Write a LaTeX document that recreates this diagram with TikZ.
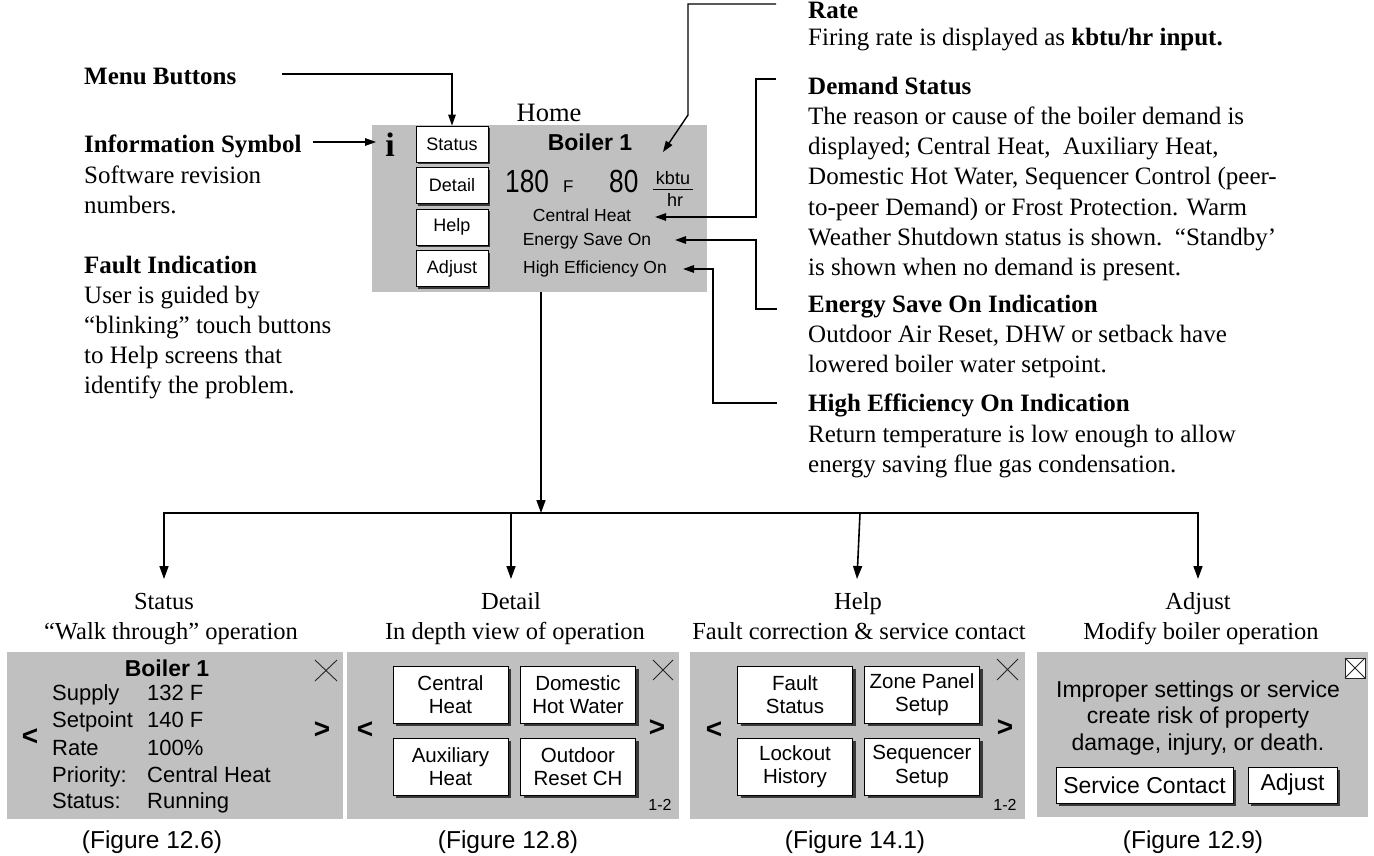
\documentclass[tikz,border=0pt]{standalone}
\usepackage{fontspec}
\setmainfont{Liberation Serif}
\newfontfamily\sans{Liberation Sans}
\newfontfamily\sansn{Liberation Sans}[FakeStretch=0.82]
\usetikzlibrary{arrows.meta,shadows}
\definecolor{panelgray}{HTML}{C0C0C0}
\definecolor{shadowgray}{HTML}{383838}
\tikzset{
  plain/.style={line width=1.6pt},
  conn/.style={line width=1.6pt, -{Triangle[length=13pt,width=9pt]}},
  sconn/.style={line width=1.4pt, -{Triangle[length=11pt,width=7.5pt]}},
  body/.style={inner sep=0pt, anchor=base west, font=\fontsize{25}{30}\selectfont},
  head/.style={body, font=\bfseries\fontsize{25}{30}\selectfont},
  title/.style={inner sep=0pt, anchor=base, font=\fontsize{24.5}{30}\selectfont},
  figlab/.style={inner sep=0pt, anchor=base, font=\sans\fontsize{24.5}{28}\selectfont},
  panel/.style={fill=panelgray, draw=none, inner sep=0pt},
  hbtn/.style={draw=black, fill=white, line width=0.8pt, inner sep=0pt,
    minimum width=72pt, minimum height=36pt, font=\sans\fontsize{18}{22}\selectfont,
    drop shadow={shadow xshift=2.2pt, shadow yshift=-2.2pt, fill=shadowgray, opacity=1}},
  pbtn/.style={draw=black, fill=white, line width=0.8pt, inner sep=0pt, align=center,
    minimum width=115pt, minimum height=57pt, font=\sans\fontsize{20.5}{23.5}\selectfont,
    drop shadow={shadow xshift=3pt, shadow yshift=-3pt, fill=shadowgray, opacity=1}},
  abtn/.style={draw=black, fill=white, line width=0.8pt, inner sep=0pt,
    minimum height=36pt, font=\sans\fontsize{23}{27}\selectfont,
    drop shadow={shadow xshift=3pt, shadow yshift=-3pt, fill=shadowgray, opacity=1}},
  ptxt/.style={inner sep=0pt, anchor=base west, font=\sans\fontsize{22}{26}\selectfont},
  nav/.style={inner sep=0pt, font=\sans\bfseries\fontsize{28}{30}\selectfont},
  closex/.style={line width=0.9pt, draw=black!85},
  pg/.style={inner sep=0pt, anchor=base, font=\sans\fontsize{16}{18}\selectfont}
}
\begin{document}
\begin{tikzpicture}[x=1pt,y=-1pt]
\useasboundingbox (0,0) rectangle (1374,856);
\fill[white] (0,0) rectangle (1374,856);

% ---------------- Home screen ----------------
\node[panel, minimum width=335pt, minimum height=167pt] (home) at (539.5,208.5) {};
\node[inner sep=0pt, anchor=base, font=\fontsize{26.5}{30}\selectfont] (homelbl) at (549,122) {Home};
\node[inner sep=0pt, anchor=base, font=\bfseries\fontsize{34}{34}\selectfont] (isym) at (390,157) {i};
\node[hbtn] (bStatus) at (452,144) {Status};
\node[hbtn] (bDetail) at (452,185.5) {Detail};
\node[hbtn] (bHelp) at (452,227) {Help};
\node[hbtn] (bAdjust) at (452,268.5) {Adjust};
\node[inner sep=0pt, anchor=base, font=\sans\bfseries\fontsize{23}{26}\selectfont] (hboiler) at (590,150) {Boiler 1};
\node[inner sep=0pt, anchor=base west, font=\sansn\fontsize{32}{32}\selectfont] (t180) at (505,193) {180};
\node[inner sep=0pt, anchor=base west, font=\sans\fontsize{17}{17}\selectfont] (tF) at (563,193) {F};
\node[inner sep=0pt, anchor=base west, font=\sansn\fontsize{32}{32}\selectfont] (t80) at (609,193) {80};
\node[inner sep=0pt, anchor=base, font=\sans\fontsize{18}{18}\selectfont] (kbtu) at (673,185) {kbtu};
\node[inner sep=0pt, anchor=base, font=\sans\fontsize{18}{18}\selectfont] (hr) at (675,207) {hr};
\draw[line width=1pt] (653,189.5) -- (693,189.5);
\node[inner sep=0pt, anchor=base, font=\sans\fontsize{17.5}{20}\selectfont] (hch) at (582,222) {Central Heat};
\node[inner sep=0pt, anchor=base, font=\sans\fontsize{17.5}{20}\selectfont] (hes) at (587,245) {Energy Save On};
\node[inner sep=0pt, anchor=base, font=\sans\fontsize{17.5}{20}\selectfont] (hhe) at (595,273) {High Efficiency On};

% ---------------- Left notes ----------------
\node[head] (menuT) at (84,85) {Menu Buttons};
\node[head] (infoT) at (84,152.5) {Information Symbol};
\node[body] (info1) at (84,183) {Software revision};
\node[body] (info2) at (84,213) {numbers.};
\node[head] (faultT) at (84,273) {Fault Indication};
\node[body] (fault1) at (84,303) {User is guided by};
\node[body] (fault2) at (84,333) {“blinking” touch buttons};
\node[body] (fault3) at (84,363) {to Help screens that};
\node[body] (fault4) at (84,393) {identify the problem.};

% ---------------- Right notes ----------------
\node[head] (rateT) at (808,19) {Rate};
\node[body] (rate1) at (808,46) {Firing rate is displayed as \textbf{kbtu/hr input.}};
\node[head] (demT) at (808,95) {Demand Status};
\node[body] (dem1) at (808,125) {The reason or cause of the boiler demand is};
\node[body] (dem2) at (808,155) {displayed; Central Heat,\ \ Auxiliary Heat,};
\node[body] (dem3) at (808,185) {Domestic Hot Water, Sequencer Control (peer-};
\node[body] (dem4) at (808,215) {to-peer Demand) or Frost Protection. Warm};
\node[body] (dem5) at (808,245) {Weather Shutdown status is shown.\ \ “Standby’};
\node[body] (dem6) at (808,275) {is shown when no demand is present.};
\node[head] (esT) at (808,312) {Energy Save On Indication};
\node[body] (es1) at (808,342) {Outdoor Air Reset, DHW or setback have};
\node[body] (es2) at (808,372) {lowered boiler water setpoint.};
\node[head] (heT) at (808,411) {High Efficiency On Indication};
\node[body] (he1) at (808,442) {Return temperature is low enough to allow};
\node[body] (he2) at (808,472) {energy saving flue gas condensation.};

% ---------------- Top connectors ----------------
\coordinate (menuA) at (282,74);
\coordinate (menuB) at (bStatus.north |- menuA);
\draw[sconn] (menuA) -- (menuB) -- (bStatus.north);
\coordinate (infoA) at (313,142);
\coordinate (infoB) at (376,142);
\draw[sconn] (infoA) -- (infoB);
\coordinate (rateA) at (776,4);
\coordinate (rateB) at (688,4);
\coordinate (rateC) at (688,115);
\coordinate (rateTip) at (663,152);
\draw[sconn] (rateA) -- (rateB) -- (rateC) -- (rateTip);
\coordinate (demA) at (776,79);
\coordinate (demB) at (756,79);
\coordinate (demC) at (756,217);
\coordinate (chTip) at (655,217);
\draw[sconn] (demA) -- (demB) -- (demC) -- (chTip);
\coordinate (esA) at (777,309);
\coordinate (esB) at (756,309);
\coordinate (esC) at (756,240);
\coordinate (esTip) at (675,240);
\draw[sconn] (esA) -- (esB) -- (esC) -- (esTip);
\coordinate (heA) at (777,403);
\coordinate (heB) at (713,403);
\coordinate (heC) at (713,269);
\coordinate (heTip) at (683,269);
\draw[sconn] (heA) -- (heB) -- (heC) -- (heTip);

% ---------------- Tree ----------------
\coordinate (hb) at (541,292);
\coordinate (tj) at (541,513);
\coordinate (tL) at (164,513);
\coordinate (tR) at (1198,513);
\coordinate (sTip) at (164,579);
\coordinate (aTip) at (1198,579);
\coordinate (dTop) at (511,513);
\coordinate (dTip) at (511,579);
\coordinate (hTop) at (860,513);
\coordinate (hTip) at (857,579);
\draw[conn] (hb) -- (tj);
\draw[line width=1.6pt, {Triangle[length=13pt,width=9pt]}-{Triangle[length=13pt,width=9pt]}] (sTip) -- (tL) -- (tR) -- (aTip);
\draw[conn] (dTop) -- (dTip);
\draw[conn] (hTop) -- (hTip);

\node[title] (stT) at (164,609) {Status};
\node[title] (stS) at (171,639) {“Walk through” operation};
\node[title] (dtT) at (511,609) {Detail};
\node[title] (dtS) at (515,639) {In depth view of operation};
\node[title] (hpT) at (858,609) {Help};
\node[title] (hpS) at (859,639) {Fault correction \& service contact};
\node[title] (ajT) at (1198,609) {Adjust};
\node[title] (ajS) at (1201,639) {Modify boiler operation};

% ---------------- Panel 1: Status ----------------
\node[panel, minimum width=336pt, minimum height=167pt] (p1) at (175,735) {};
\node[inner sep=0pt, anchor=base, font=\sans\bfseries\fontsize{23}{26}\selectfont] (p1b) at (167,676) {Boiler 1};
\node[ptxt] (p1l1) at (52,700) {Supply};
\node[ptxt] (p1v1) at (147,700) {132 F};
\node[ptxt] (p1l2) at (52,727) {Setpoint};
\node[ptxt] (p1v2) at (147,727) {140 F};
\node[ptxt] (p1l3) at (52,755) {Rate};
\node[ptxt] (p1v3) at (147,755) {100\%};
\node[ptxt] (p1l4) at (52,782) {Priority:};
\node[ptxt] (p1v4) at (147,782) {Central Heat};
\node[ptxt] (p1l5) at (52,808) {Status:};
\node[ptxt] (p1v5) at (147,808) {Running};
\node[nav] (p1lt) at (30,737) {<};
\node[nav] (p1gt) at (322,730) {>};
\draw[closex] (315,660) -- (337,681) (315,681) -- (337,660);
\node[figlab] (f1) at (152,848) {(Figure 12.6)};

% ---------------- Panel 2: Detail ----------------
\node[panel, minimum width=332pt, minimum height=167pt] (p2) at (513,735) {};
\node[pbtn] (p2a) at (450.5,694.5) {Central\\Heat};
\node[pbtn] (p2b) at (578,694.5) {Domestic\\Hot Water};
\node[pbtn] (p2c) at (450.5,766.5) {Auxiliary\\Heat};
\node[pbtn] (p2d) at (578,766.5) {Outdoor\\Reset CH};
\node[nav] (p2lt) at (365,730) {<};
\node[nav] (p2gt) at (657,728) {>};
\draw[closex] (653,660) -- (673,680) (653,680) -- (673,660);
\node[pg] (p2pg) at (660,810) {1-2};
\node[figlab] (f2) at (508,848) {(Figure 12.8)};

% ---------------- Panel 3: Help ----------------
\node[panel, minimum width=335pt, minimum height=167pt] (p3) at (857.5,735) {};
\node[pbtn] (p3a) at (795,694.5) {Fault\\Status};
\node[pbtn] (p3b) at (922,694.5) {Zone Panel\\Setup};
\node[pbtn] (p3c) at (795,766.5) {Lockout\\History};
\node[pbtn] (p3d) at (922,766.5) {Sequencer\\Setup};
\node[nav] (p3lt) at (714,730) {<};
\node[nav] (p3gt) at (1005,728) {>};
\draw[closex] (997,659) -- (1018,680) (997,680) -- (1018,659);
\node[pg] (p3pg) at (1005,810) {1-2};
\node[figlab] (f3) at (855,848) {(Figure 14.1)};

% ---------------- Panel 4: Adjust ----------------
\node[panel, minimum width=331pt, minimum height=165pt] (p4) at (1202.5,734) {};
\draw[closex, fill=white] (1345,658) rectangle (1365,678);
\draw[closex] (1345,658) -- (1365,678) (1345,678) -- (1365,658);
\node[inner sep=0pt, anchor=base, font=\sans\fontsize{23}{27}\selectfont] (p4t1) at (1198,697) {Improper settings or service};
\node[inner sep=0pt, anchor=base, font=\sans\fontsize{23}{27}\selectfont] (p4t2) at (1198,723) {create risk of property};
\node[inner sep=0pt, anchor=base, font=\sans\fontsize{23}{27}\selectfont] (p4t3) at (1198,750) {damage, injury, or death.};
\node[abtn, minimum width=177pt] (p4a) at (1144.5,785) {Service Contact};
\node[abtn, minimum width=89pt] (p4b) at (1292.5,785) {Adjust};
\node[figlab] (f4) at (1193,848) {(Figure 12.9)};
\end{tikzpicture}
\end{document}
